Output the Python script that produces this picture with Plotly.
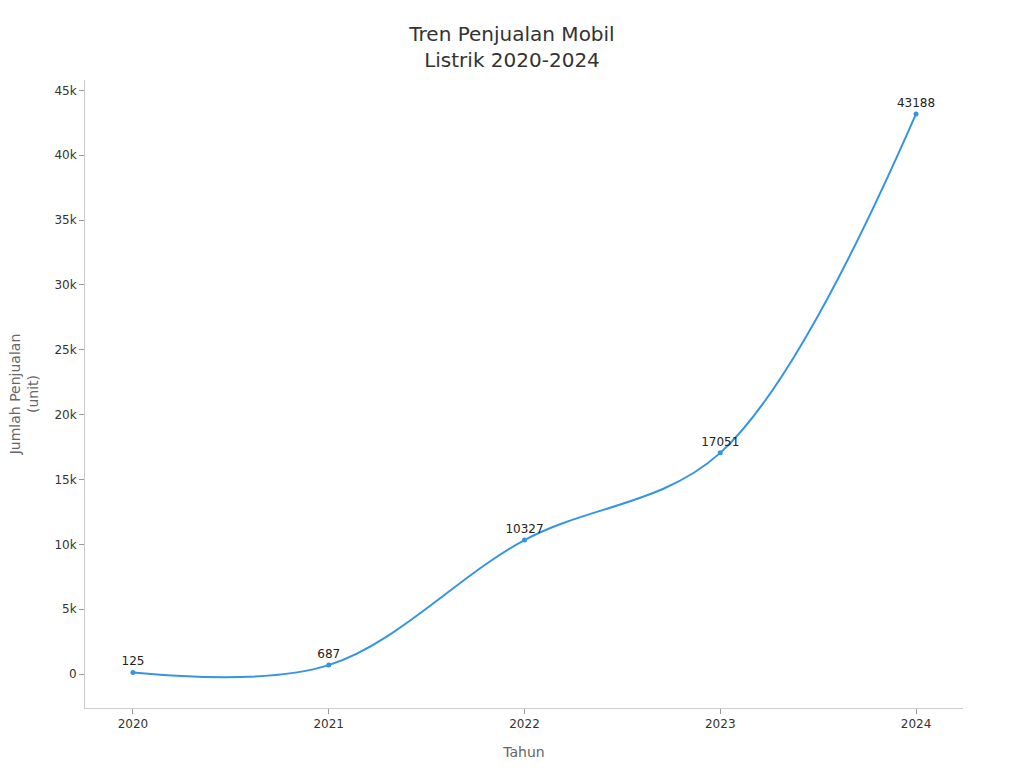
import plotly.graph_objects as go

years = [2020, 2021, 2022, 2023, 2024]
sales = [125, 687, 10327, 17051, 43188]
labels = [str(v) for v in sales]

fig = go.Figure()
fig.add_trace(go.Scatter(
    x=years, y=sales, mode="lines+markers+text",
    line=dict(color="#3594e6", width=2, shape="spline", smoothing=1),
    marker=dict(size=5, color="#3594e6"),
    text=labels, textposition="top center",
    textfont=dict(family="DejaVu Sans", size=12, color="#222"),
    showlegend=False,
))

fig.update_layout(
    width=1024, height=768,
    paper_bgcolor="white", plot_bgcolor="white",
    margin=dict(l=85, r=61, t=80, b=60, autoexpand=False),
    font=dict(family="DejaVu Sans", color="#333"),
    title=dict(text="Tren Penjualan Mobil<br>Listrik 2020-2024", x=0.5, xanchor="center",
               y=0.946, yanchor="top", font=dict(size=20, color="#333")),
    xaxis=dict(
        range=[2019.755, 2024.24], tickmode="array", tickvals=years,
        ticktext=[str(y) for y in years], automargin=False,
        showgrid=False, zeroline=False, showline=True, linecolor="#ccc", linewidth=1,
        ticks="outside", ticklen=5, tickcolor="#999",
        tickfont=dict(size=12, color="#333"),
        title=dict(text="Tahun", font=dict(size=14, color="#666"), standoff=16),
    ),
    yaxis=dict(
        range=[-2620, 45800], tickvals=[0, 5000, 10000, 15000, 20000, 25000, 30000, 35000, 40000, 45000],
        ticktext=["0", "5k", "10k", "15k", "20k", "25k", "30k", "35k", "40k", "45k"],
        automargin=False,
        showgrid=False, zeroline=False, showline=True, linecolor="#ccc", linewidth=1,
        ticks="outside", ticklen=5, tickcolor="#999",
        tickfont=dict(size=12, color="#333"),
        title=dict(text="Jumlah Penjualan<br>(unit)", font=dict(size=14, color="#666"), standoff=12),
    ),
)

fig.write_html("out.html")
